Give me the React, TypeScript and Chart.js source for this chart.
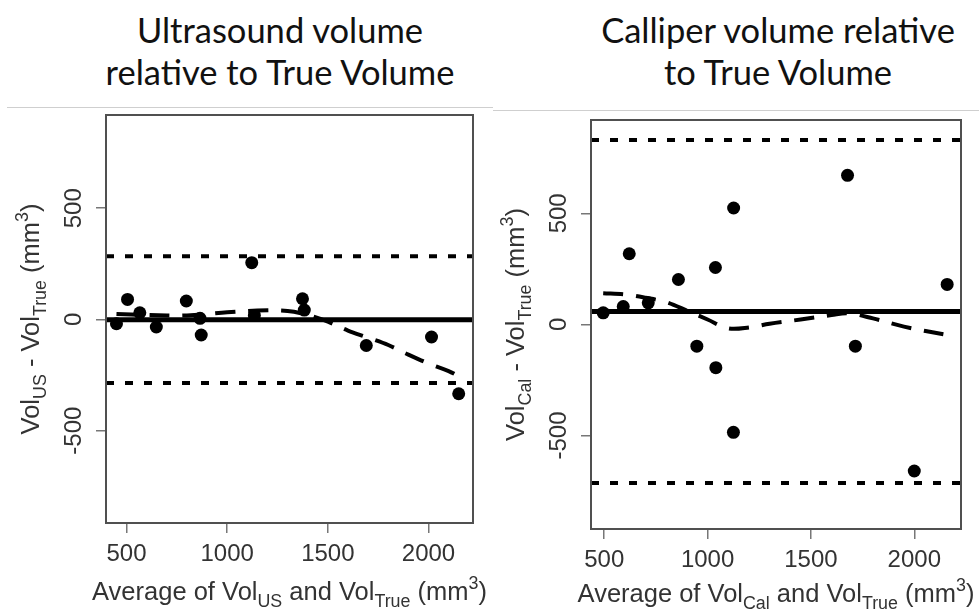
import React, { useEffect, useRef } from "react";
import { Chart, registerables } from "chart.js";
Chart.register(...registerables);

// ---------- Data: Ultrasound panel ----------
const usAvg = [450, 505, 566, 648, 797, 865, 871, 1122, 1135, 1374, 1383, 1691, 2015, 2150];
const usDiff = [-19, 90, 30, -34, 83, 5, -70, 255, 18, 93, 42, -117, -79, -334];
const usLoessX = [450, 600, 800, 1000, 1150, 1300, 1400, 1500, 1600, 1700, 1800, 1900, 2000, 2100, 2150];
const usLoessY = [25, 20, 18, 32, 40, 38, 20, -10, -50, -82, -115, -158, -198, -232, -255];
const usBias = -1;
const usUpper = 284;
const usLower = -286;
const usXRange = [398, 2221];
const usYRange = [-915, 919];

// ---------- Data: Calliper panel ----------
const calAvg = [495, 592, 621, 713, 859, 948, 1038, 1040, 1126, 1125, 1677, 1715, 2000, 2159];
const calDiff = [52, 80, 318, 97, 202, -98, 256, -195, 524, -486, 671, -98, -660, 180];
const calLoessX = [495, 600, 700, 800, 900, 1000, 1100, 1200, 1300, 1450, 1600, 1680, 1800, 1950, 2160];
const calLoessY = [140, 135, 120, 100, 62, 22, -18, -14, 3, 22, 42, 50, 27, -10, -48];
const calBias = 58;
const calUpper = 830;
const calLower = -714;
const calXRange = [436, 2226];
const calYRange = [-921, 920];

// ---------- Ticks ----------
const xTicks = [500, 1000, 1500, 2000];
const yTicks = [-500, 0, 500];

type Seg = { t: string; k?: "sub" | "sup" };
const FONT = '"Liberation Sans", Arial, Helvetica, sans-serif';
const TEXT = "#333";

function drawRich(ctx: CanvasRenderingContext2D, segs: Seg[], cx: number, cy: number, size: number, rotate: boolean) {
  ctx.save();
  ctx.translate(cx, cy);
  if (rotate) ctx.rotate(-Math.PI / 2);
  const small = size * 0.7;
  const widths = segs.map((s) => {
    ctx.font = `${s.k ? small : size}px ${FONT}`;
    return ctx.measureText(s.t).width;
  });
  const total = widths.reduce((a, b) => a + b, 0);
  let x = -total / 2;
  ctx.textAlign = "left";
  ctx.textBaseline = "alphabetic";
  ctx.fillStyle = TEXT;
  const base = size * 0.36;
  segs.forEach((s, i) => {
    ctx.font = `${s.k ? small : size}px ${FONT}`;
    const dy = s.k === "sub" ? size * 0.25 : s.k === "sup" ? -size * 0.42 : 0;
    ctx.fillText(s.t, x, base + dy);
    x += widths[i];
  });
  ctx.restore();
}

function makeTextPlugin(xTitle: Seg[], yTitle: Seg[], xTitleOff: number) {
  return {
    id: "rtext",
    afterDraw(chart: any) {
      const ctx: CanvasRenderingContext2D = chart.ctx;
      const a = chart.chartArea;
      const xs = chart.scales.x;
      const ys = chart.scales.y;
      // box
      ctx.save();
      ctx.strokeStyle = "#505050";
      ctx.lineWidth = 2;
      ctx.strokeRect(a.left, a.top, a.right - a.left, a.bottom - a.top);
      ctx.restore();
      // tick labels
      ctx.save();
      ctx.fillStyle = TEXT;
      ctx.font = `24px ${FONT}`;
      ctx.textAlign = "center";
      ctx.textBaseline = "middle";
      xTicks.forEach((v) => {
        ctx.fillText(String(v), xs.getPixelForValue(v), a.bottom + 31);
      });
      yTicks.forEach((v) => {
        ctx.save();
        ctx.translate(a.left - 32, ys.getPixelForValue(v));
        ctx.rotate(-Math.PI / 2);
        ctx.fillText(String(v), 0, 0);
        ctx.restore();
      });
      ctx.restore();
      drawRich(ctx, xTitle, (a.left + a.right) / 2, a.bottom + xTitleOff, 25.5, false);
      drawRich(ctx, yTitle, a.left - 76, (a.top + a.bottom) / 2, 25.5, true);
    },
  };
}

function buildConfig(
  avg: number[], diff: number[], lx: number[], ly: number[],
  bias: number, upper: number, lower: number,
  xr: number[], yr: number[], pad: any, yW: number, xH: number,
  xTitle: Seg[], yTitle: Seg[], xTitleOff: number
): any {
  const hline = (v: number) => [{ x: xr[0], y: v }, { x: xr[1], y: v }];
  return {
    type: "scatter",
    data: {
      datasets: [
        {
          data: avg.map((x, i) => ({ x, y: diff[i] })),
          pointRadius: 6.5,
          pointBackgroundColor: "#000",
          pointBorderWidth: 0,
          showLine: false,
        },
        {
          data: lx.map((x, i) => ({ x, y: ly[i] })),
          showLine: true,
          borderColor: "#000",
          borderWidth: 4,
          borderDash: [20, 13],
          tension: 0.35,
          pointRadius: 0,
        },
        {
          data: hline(bias),
          showLine: true,
          borderColor: "#000",
          borderWidth: 5,
          pointRadius: 0,
        },
        {
          data: hline(upper),
          showLine: true,
          borderColor: "#000",
          borderWidth: 4,
          borderDash: [8, 11],
          pointRadius: 0,
        },
        {
          data: hline(lower),
          showLine: true,
          borderColor: "#000",
          borderWidth: 4,
          borderDash: [8, 11],
          pointRadius: 0,
        },
      ],
    },
    options: {
      animation: false,
      responsive: false,
      events: [],
      layout: { padding: pad },
      plugins: { legend: { display: false }, tooltip: { enabled: false } },
      scales: {
        x: {
          type: "linear",
          min: xr[0],
          max: xr[1],
          afterBuildTicks: (s: any) => { s.ticks = xTicks.map((v) => ({ value: v })); },
          afterFit: (s: any) => { s.height = xH; },
          ticks: { display: false },
          border: { display: false },
          grid: { drawOnChartArea: false, drawTicks: true, tickLength: 10, color: "#777", lineWidth: 1.5 },
        },
        y: {
          type: "linear",
          min: yr[0],
          max: yr[1],
          afterBuildTicks: (s: any) => { s.ticks = yTicks.map((v) => ({ value: v })); },
          afterFit: (s: any) => { s.width = yW; },
          ticks: { display: false },
          border: { display: false },
          grid: { drawOnChartArea: false, drawTicks: true, tickLength: 10, color: "#777", lineWidth: 1.5 },
        },
      },
    },
    plugins: [makeTextPlugin(xTitle, yTitle, xTitleOff)],
  };
}

function Panel(props: { cfg: () => any; left: number; top: number; width: number; height: number }) {
  const ref = useRef<HTMLCanvasElement | null>(null);
  useEffect(() => {
    if (!ref.current) return;
    const c = new Chart(ref.current, props.cfg());
    return () => c.destroy();
  }, []);
  return (
    <canvas
      ref={ref}
      width={props.width}
      height={props.height}
      style={{ position: "absolute", left: props.left, top: props.top, width: props.width, height: props.height }}
    />
  );
}

const titleStyle: React.CSSProperties = {
  position: "absolute",
  width: 480,
  textAlign: "center",
  fontFamily: "Lato, 'Open Sans', sans-serif",
  fontSize: 34.5,
  lineHeight: "42px",
  color: "#111",
  whiteSpace: "nowrap",
};

export default function App() {
  return (
    <div style={{ position: "absolute", left: 0, top: 0, width: 979, height: 610, background: "#fff", overflow: "hidden" }}>
      <div style={{ ...titleStyle, left: 280 - 240, top: 9 }}>
        Ultrasound volume<br />relative to True Volume
      </div>
      <div style={{ ...titleStyle, left: 778 - 240, top: 9 }}>
        Calliper volume relative<br />to True Volume
      </div>
      <div style={{ position: "absolute", left: 7, top: 107, width: 486, height: 1, background: "#cfcfcf" }} />
      <div style={{ position: "absolute", left: 493, top: 110, width: 486, height: 1, background: "#cfcfcf" }} />
      <Panel
        left={0}
        top={100}
        width={490}
        height={510}
        cfg={() =>
          buildConfig(
            usAvg, usDiff, usLoessX, usLoessY, usBias, usUpper, usLower, usXRange, usYRange,
            { top: 15, right: 17, left: 0, bottom: 0 }, 106, 87,
            [{ t: "Average of Vol" }, { t: "US", k: "sub" }, { t: " and Vol" }, { t: "True", k: "sub" }, { t: " (mm" }, { t: "3", k: "sup" }, { t: ")" }],
            [{ t: "Vol" }, { t: "US", k: "sub" }, { t: " - Vol" }, { t: "True", k: "sub" }, { t: " (mm" }, { t: "3", k: "sup" }, { t: ")" }],
            68
          )
        }
      />
      <Panel
        left={490}
        top={100}
        width={489}
        height={510}
        cfg={() =>
          buildConfig(
            calAvg, calDiff, calLoessX, calLoessY, calBias, calUpper, calLower, calXRange, calYRange,
            { top: 20, right: 18, left: 0, bottom: 0 }, 101, 81,
            [{ t: "Average of Vol" }, { t: "Cal", k: "sub" }, { t: " and Vol" }, { t: "True", k: "sub" }, { t: " (mm" }, { t: "3", k: "sup" }, { t: ")" }],
            [{ t: "Vol" }, { t: "Cal", k: "sub" }, { t: " - Vol" }, { t: "True", k: "sub" }, { t: " (mm" }, { t: "3", k: "sup" }, { t: ")" }],
            64
          )
        }
      />
    </div>
  );
}
